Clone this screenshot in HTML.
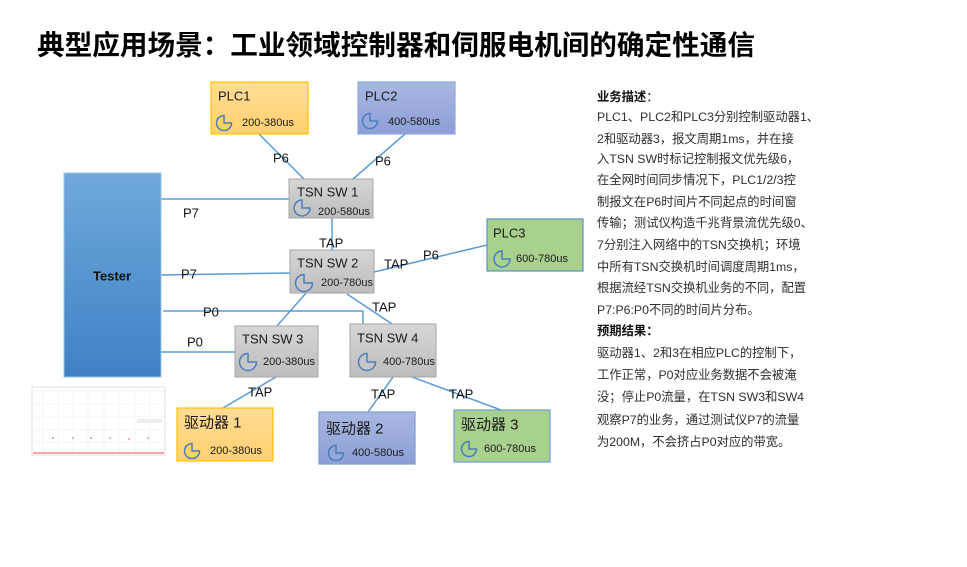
<!DOCTYPE html>
<html><head><meta charset="utf-8"><style>
html,body{margin:0;padding:0;background:#fff;}
svg{display:block;}
text{font-family:"Liberation Sans","Noto Sans CJK SC",sans-serif;}
</style></head><body>
<svg width="967" height="567" viewBox="0 0 967 567" xmlns="http://www.w3.org/2000/svg">
<defs>
<linearGradient id="gT" x1="0" y1="0" x2="0" y2="1"><stop offset="0" stop-color="#70A8DC"/><stop offset="1" stop-color="#3E82C4"/></linearGradient>
<linearGradient id="gY" x1="0" y1="0" x2="0" y2="1"><stop offset="0" stop-color="#FFDC96"/><stop offset="1" stop-color="#FFD06F"/></linearGradient>
<linearGradient id="gB" x1="0" y1="0" x2="0" y2="1"><stop offset="0" stop-color="#A9B8E2"/><stop offset="1" stop-color="#8C9FD6"/></linearGradient>
<linearGradient id="gG" x1="0" y1="0" x2="0" y2="1"><stop offset="0" stop-color="#D6D6D6"/><stop offset="1" stop-color="#BDBDBD"/></linearGradient>
</defs>

<!-- title -->
<text x="37" y="45" font-size="27.5" font-weight="bold" fill="#000" dominant-baseline="central" textLength="718" lengthAdjust="spacingAndGlyphs">典型应用场景：工业领域控制器和伺服电机间的确定性通信</text>

<!-- connectors -->
<g stroke="#5B9BD5" stroke-width="1.5" fill="none">
<line x1="259" y1="134" x2="304" y2="179"/>
<line x1="405" y1="134" x2="353" y2="179"/>
<line x1="161" y1="199" x2="289" y2="199"/>
<line x1="332" y1="218" x2="332" y2="250"/>
<line x1="161" y1="275" x2="290" y2="273"/>
<polyline points="163,311 363,311 363,324"/>
<line x1="161" y1="352" x2="235" y2="352"/>
<line x1="374" y1="272" x2="487" y2="245"/>
<line x1="306" y1="293" x2="277" y2="326"/>
<line x1="347" y1="294" x2="392" y2="324"/>
<line x1="276" y1="377" x2="223" y2="408"/>
<line x1="393" y1="377" x2="368" y2="412"/>
<line x1="412" y1="377" x2="501" y2="410"/>
</g>

<!-- Tester -->
<rect x="64" y="173" width="97" height="204" fill="url(#gT)" stroke="#9DC3E6" stroke-width="1"/>
<text x="112" y="276" font-size="13" font-weight="bold" fill="#111" text-anchor="middle" dominant-baseline="central">Tester</text>

<!-- boxes -->
<rect x="211" y="82" width="97" height="52" fill="url(#gY)" stroke="#FFC000" stroke-width="1.2"/>
<rect x="358" y="82" width="97" height="52" fill="url(#gB)" stroke="#8EAADB" stroke-width="1.2"/>
<rect x="289" y="179" width="84" height="39" fill="url(#gG)" stroke="#A6A6A6" stroke-width="1"/>
<rect x="290" y="250" width="84" height="43" fill="url(#gG)" stroke="#A6A6A6" stroke-width="1"/>
<rect x="235" y="326" width="83" height="51" fill="url(#gG)" stroke="#A6A6A6" stroke-width="1"/>
<rect x="350" y="324" width="86" height="53" fill="url(#gG)" stroke="#A6A6A6" stroke-width="1"/>
<rect x="487" y="219" width="96" height="52" fill="#A9D18E" stroke="#5B8FD0" stroke-width="1.2"/>
<rect x="177" y="408" width="96" height="53" fill="url(#gY)" stroke="#FFC000" stroke-width="1.2"/>
<rect x="319" y="412" width="96" height="52" fill="url(#gB)" stroke="#7F9BD3" stroke-width="1.2"/>
<rect x="454" y="410" width="96" height="52" fill="#A9D18E" stroke="#6E9DD3" stroke-width="1.2"/>

<!-- pies -->
<g stroke="#4A7EBB" stroke-width="1.5">
<path d="M224,123 L224,115.5 A7.5,7.5 0 1 0 231.5,123 Z" fill="#FFD45E"/>
<path d="M370,121 L370,113.5 A7.5,7.5 0 1 0 377.5,121 Z" fill="#9AAADC"/>
<path d="M302,208 L302,200 A8,8 0 1 0 310,208 Z" fill="#C8C8C8"/>
<path d="M304,283 L304,274.5 A8.5,8.5 0 1 0 312.5,283 Z" fill="#C6C6C6"/>
<path d="M248,362 L248,353.5 A8.5,8.5 0 1 0 256.5,362 Z" fill="#C6C6C6"/>
<path d="M367,362 L367,353.5 A8.5,8.5 0 1 0 375.5,362 Z" fill="#C6C6C6"/>
<path d="M502,259 L502,251 A8,8 0 1 0 510,259 Z" fill="#A9D18E"/>
<path d="M192,451 L192,443.5 A7.5,7.5 0 1 0 199.5,451 Z" fill="#FFD45E"/>
<path d="M336,453 L336,445.5 A7.5,7.5 0 1 0 343.5,453 Z" fill="#94A6DA"/>
<path d="M469,449 L469,441.5 A7.5,7.5 0 1 0 476.5,449 Z" fill="#A9D18E"/>
</g>

<!-- box text -->
<g fill="#1a1a1a" dominant-baseline="central">
<text x="218" y="96" font-size="13">PLC1</text>
<text x="242" y="123" font-size="11">200-380us</text>
<text x="365" y="96" font-size="13">PLC2</text>
<text x="388" y="122" font-size="11">400-580us</text>
<text x="297" y="192" font-size="13">TSN SW 1</text>
<text x="318" y="212" font-size="11">200-580us</text>
<text x="297" y="263" font-size="13">TSN SW 2</text>
<text x="321" y="283" font-size="11">200-780us</text>
<text x="242" y="339" font-size="13">TSN SW 3</text>
<text x="263" y="362" font-size="11">200-380us</text>
<text x="357" y="338" font-size="13">TSN SW 4</text>
<text x="383" y="362" font-size="11">400-780us</text>
<text x="493" y="233" font-size="13">PLC3</text>
<text x="516" y="259" font-size="11">600-780us</text>
<text x="184" y="423" font-size="15">驱动器 1</text>
<text x="210" y="451" font-size="11">200-380us</text>
<text x="326" y="429" font-size="15">驱动器 2</text>
<text x="352" y="453" font-size="11">400-580us</text>
<text x="461" y="425" font-size="15">驱动器 3</text>
<text x="484" y="449" font-size="11">600-780us</text>
</g>

<!-- connector labels -->
<g fill="#111" font-size="13" dominant-baseline="central">
<text x="273" y="158">P6</text>
<text x="375" y="161">P6</text>
<text x="183" y="213">P7</text>
<text x="181" y="274">P7</text>
<text x="203" y="312">P0</text>
<text x="187" y="342">P0</text>
<text x="319" y="243">TAP</text>
<text x="384" y="264">TAP</text>
<text x="423" y="255">P6</text>
<text x="372" y="307">TAP</text>
<text x="248" y="392">TAP</text>
<text x="371" y="394">TAP</text>
<text x="449" y="394">TAP</text>
</g>

<!-- chart thumbnail -->
<g>
<rect x="32" y="387" width="133" height="68" fill="#fff" stroke="#E2E2E2" stroke-width="1"/>
<g stroke="#F0F0F0" stroke-width="0.8">
<line x1="43" y1="390" x2="43" y2="452"/><line x1="58" y1="390" x2="58" y2="452"/>
<line x1="73" y1="390" x2="73" y2="452"/><line x1="88" y1="390" x2="88" y2="452"/>
<line x1="104" y1="390" x2="104" y2="452"/><line x1="119" y1="390" x2="119" y2="452"/>
<line x1="135" y1="390" x2="135" y2="452"/><line x1="150" y1="390" x2="150" y2="452"/>
<line x1="34" y1="391" x2="164" y2="391"/><line x1="34" y1="404" x2="164" y2="404"/>
<line x1="34" y1="417" x2="164" y2="417"/><line x1="34" y1="430" x2="164" y2="430"/>
<line x1="34" y1="442" x2="164" y2="442"/>
</g>
<line x1="33" y1="453" x2="164" y2="453" stroke="#F28B8B" stroke-width="1.5"/>
<rect x="137" y="419" width="25" height="4" fill="#EDEDED"/>
<g fill="#F3B0B0"><rect x="52" y="437" width="2" height="2"/><rect x="72" y="437" width="2" height="2"/><rect x="90" y="437" width="2" height="2"/><rect x="109" y="437" width="2" height="2"/><rect x="128" y="438" width="2" height="2"/><rect x="147" y="437" width="2" height="2"/></g>
</g>

<!-- description panel -->
<g font-size="12.3" fill="#2f2f2f" dominant-baseline="central">
<text x="597" y="97" font-weight="bold" fill="#111">业务描述<tspan font-weight="normal">：</tspan></text>
<text x="597" y="117">PLC1、PLC2和PLC3分别控制驱动器1、</text>
<text x="597" y="139">2和驱动器3，报文周期1ms，并在接</text>
<text x="597" y="159">入TSN SW时标记控制报文优先级6，</text>
<text x="597" y="180">在全网时间同步情况下，PLC1/2/3控</text>
<text x="597" y="202">制报文在P6时间片不同起点的时间窗</text>
<text x="597" y="223">传输；测试仪构造千兆背景流优先级0、</text>
<text x="597" y="245">7分别注入网络中的TSN交换机；环境</text>
<text x="597" y="267">中所有TSN交换机时间调度周期1ms，</text>
<text x="597" y="288">根据流经TSN交换机业务的不同，配置</text>
<text x="597" y="310">P7:P6:P0不同的时间片分布。</text>
<text x="597" y="331" font-weight="bold" fill="#111">预期结果：</text>
<text x="597" y="353">驱动器1、2和3在相应PLC的控制下，</text>
<text x="597" y="375">工作正常，P0对应业务数据不会被淹</text>
<text x="597" y="397">没；停止P0流量，在TSN SW3和SW4</text>
<text x="597" y="420">观察P7的业务，通过测试仪P7的流量</text>
<text x="597" y="442">为200M，不会挤占P0对应的带宽。</text>
</g>
</svg>
</body></html>
